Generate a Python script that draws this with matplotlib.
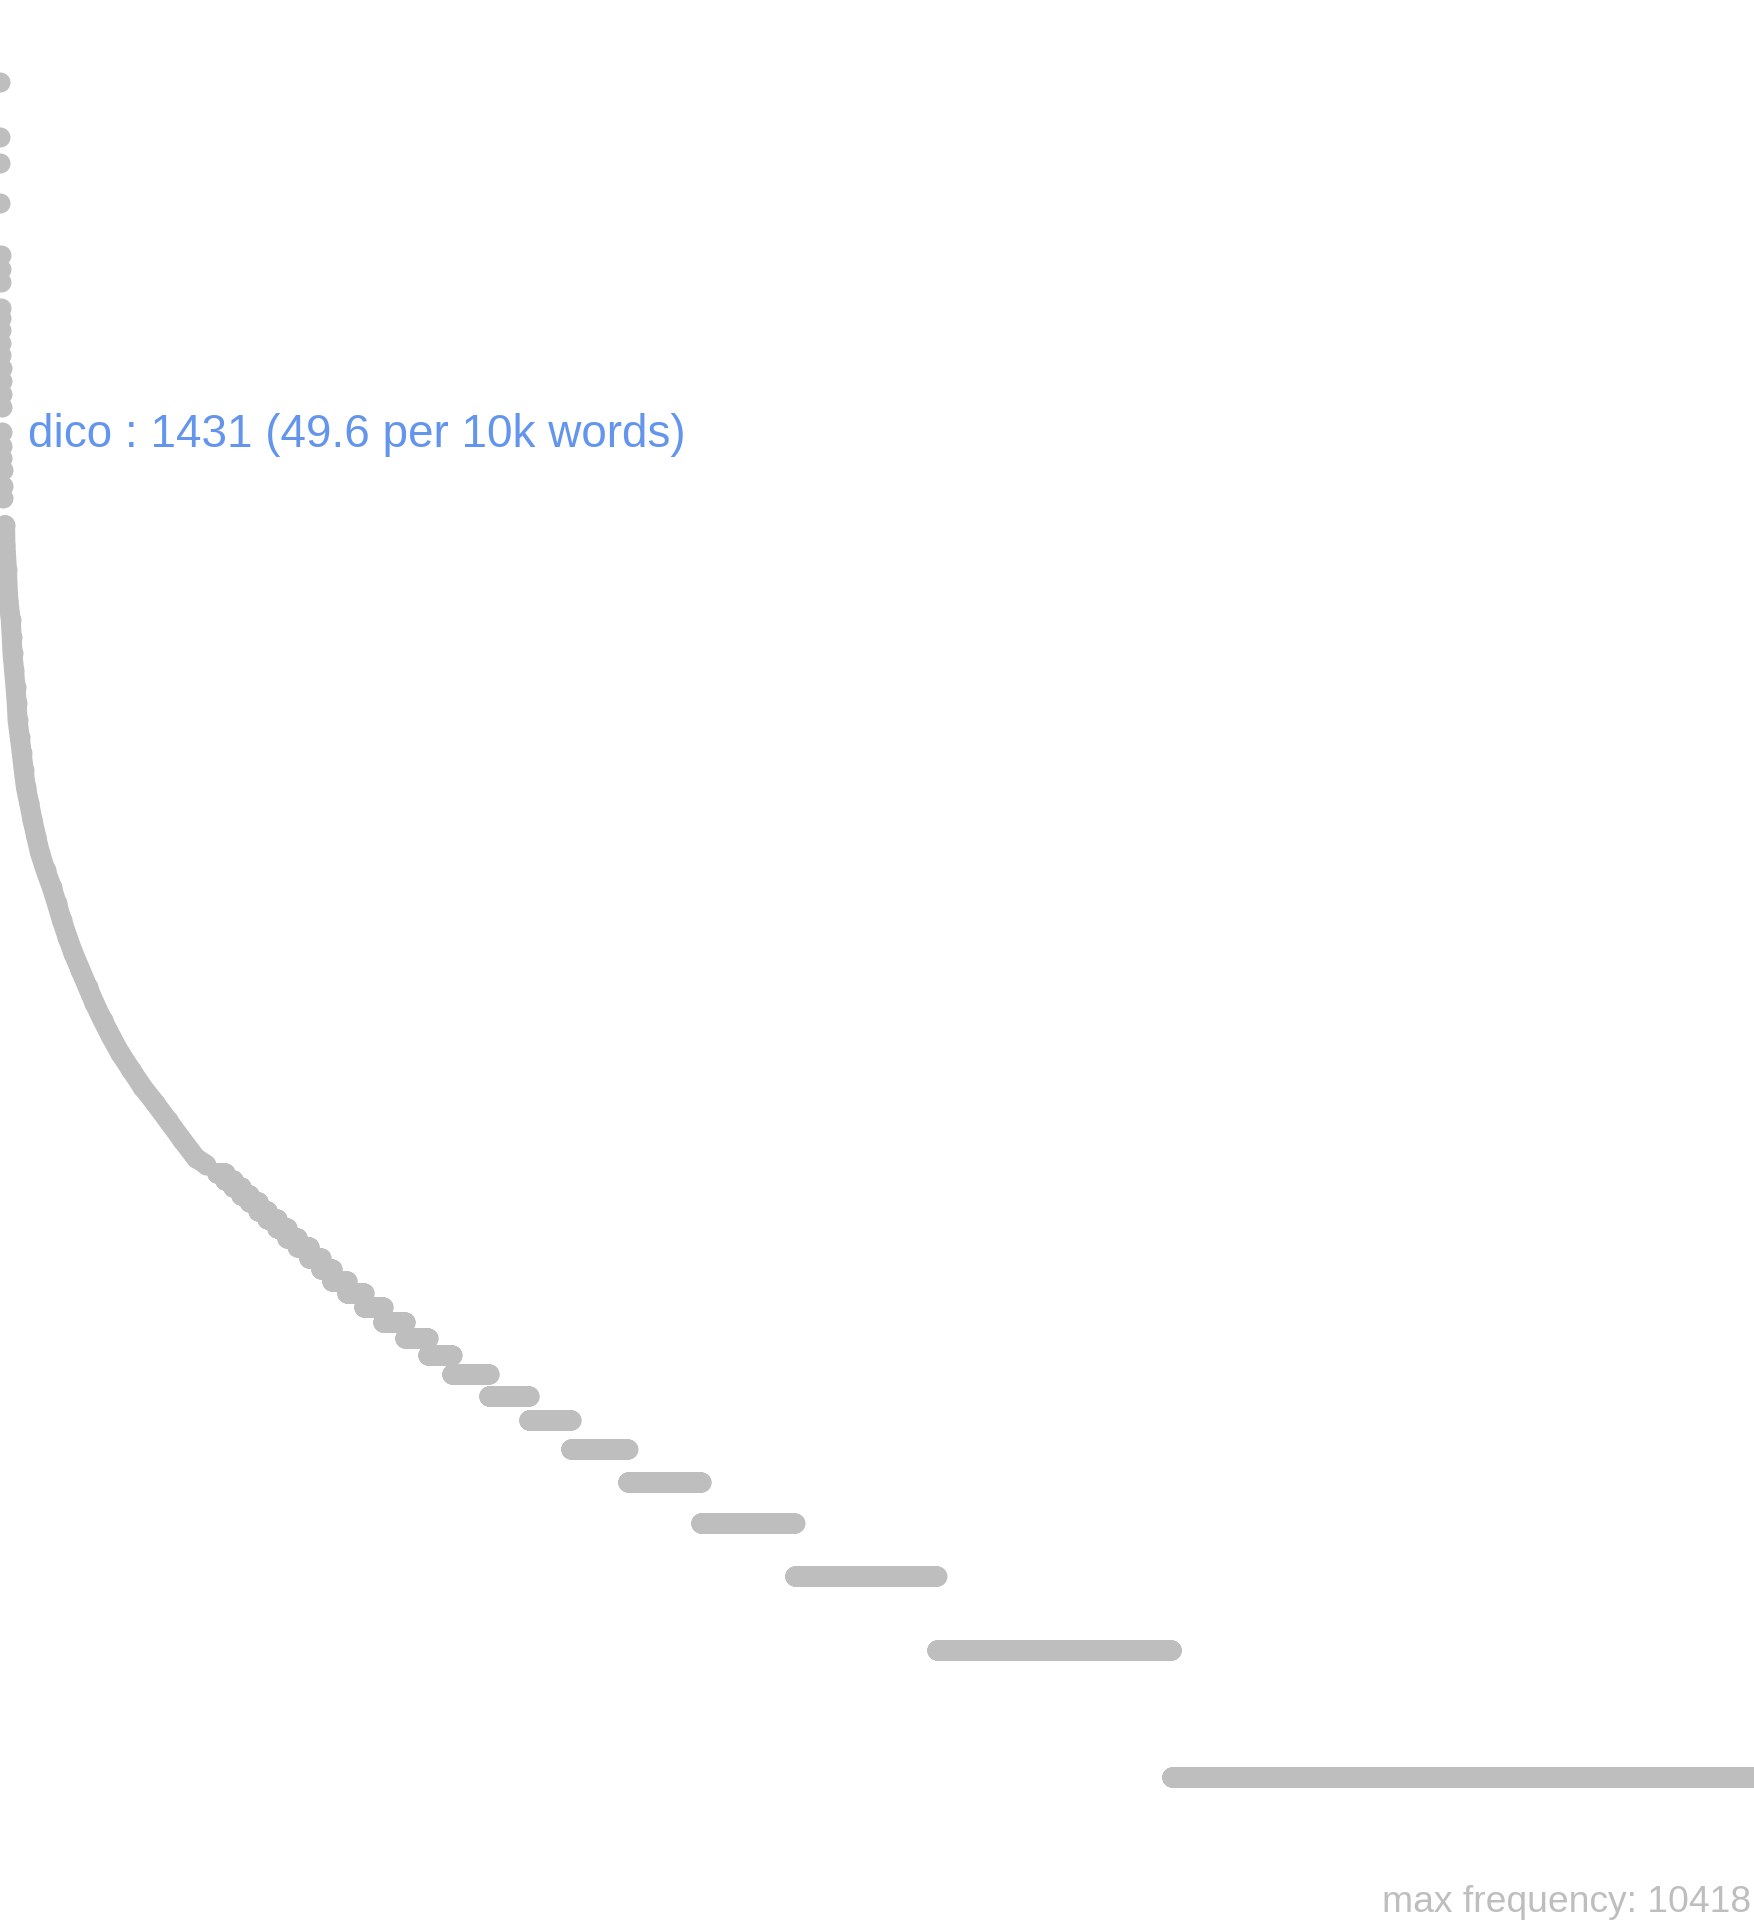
import numpy as np
import matplotlib.pyplot as plt

# most frequent words, one point each (ranks 1..22)
top_freqs = [10418, 7710, 6690, 5380, 4050, 3750, 3500, 3030, 2870, 2690, 2510,
             2350, 2190, 2040, 1900, 1770, 1540, 1431, 1340, 1250, 1150, 1075]

# points read along the continuous part of the curve (rank, frequency)
curve_ranks = [38, 41, 52, 62, 80, 87, 93, 104, 115, 124, 130, 146, 161, 175,
               191, 216, 240, 268, 295, 336, 381, 418, 455, 497, 540, 593, 645,
               696, 755, 819, 884, 966, 1049, 1141, 1233, 1340, 1443, 1516]
curve_freqs = [928, 832, 726, 616, 553, 504, 461, 421, 383, 351, 320, 292, 267, 244,
               222, 203, 185.5, 169, 155, 141, 128.7, 117.9, 107.5, 98, 89.8, 81.8, 74.6,
               68.3, 62.3, 56.8, 52, 47.4, 43.2, 39.6, 36.1, 32.4, 29.3, 28.3]

# low frequencies: how many words share each frequency
n_words_above = 1595
level_freqs = [27, 26, 25, 24, 23, 22, 21, 20, 19, 18, 17, 16, 15, 14,
               13, 12, 11, 10, 9, 8, 7, 6, 5, 4, 3, 2, 1]
level_counts = [59, 59, 59, 62, 66, 66, 70, 74, 77, 85, 88, 81, 110, 125,
                140, 162, 169, 176, 272, 294, 309, 419, 537, 691, 1044, 1727, 4285]

dico_word = "dico"
dico_rank = 18
dico_freq = 1431
dico_per_10k = 49.6
max_freq = 10418

GREY = "#BEBEBE"
BLUE = "#6495ED"
MS = 14.4  # marker diameter in points (20 px)

plt.rcParams['font.family'] = ['Liberation Sans', 'DejaVu Sans']

fig = plt.figure(figsize=(17.54, 19.2), dpi=100)
ax = fig.add_axes([0, 0, 1, 1])
ax.axis('off')

top_ranks = np.arange(1, len(top_freqs) + 1)
ax.plot(top_ranks, top_freqs, 'o', ms=MS, color=GREY, mec='none')

ax.plot(curve_ranks, curve_freqs, '-o', lw=MS, ms=MS, color=GREY, mec='none',
        solid_capstyle='round', solid_joinstyle='round')

low_ranks = n_words_above + 1 + np.arange(sum(level_counts))
low_freqs = np.repeat(level_freqs, level_counts)
ax.plot(low_ranks, low_freqs, 'o', ms=MS, color=GREY, mec='none')

n_words = n_words_above + sum(level_counts)
ax.set_yscale('log')
ax.set_ylim(10 ** -0.3389, 10 ** 4.2119)
ax.set_xlim(1, n_words)

ax.annotate("{} : {} ({} per 10k words)".format(dico_word, dico_freq, dico_per_10k),
            xy=(dico_rank, dico_freq), xytext=(26, -1), textcoords='offset pixels',
            ha='left', va='baseline', color=BLUE, fontsize=33)

ax.text(0.9985, 1 - 1912 / 1920, "max frequency: {}".format(max_freq),
        transform=ax.transAxes, ha='right', va='baseline', color=GREY, fontsize=26.8)

fig.savefig("out.png", dpi=100)
